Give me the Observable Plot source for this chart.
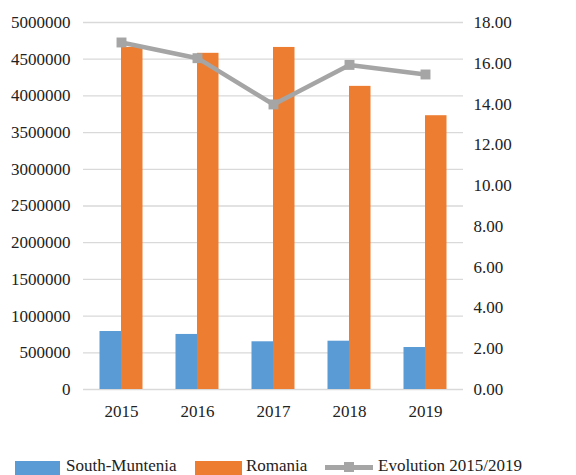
<!DOCTYPE html>
<html>
<head>
<meta charset="utf-8">
<script src="https://cdn.jsdelivr.net/npm/d3@7"></script>
<script src="https://cdn.jsdelivr.net/npm/@observablehq/plot@0.6"></script>
<style>
  html, body { margin: 0; padding: 0; background: #fff; }
  #wrap { position: relative; width: 576px; height: 475px; overflow: hidden; font-family: "Liberation Serif", serif; }
  #wrap svg, #wrap svg text { font-family: "Liberation Serif", serif !important; }
  .lg { position: absolute; font-size: 17px; color: #222; white-space: nowrap; line-height: 1; font-family: "Liberation Serif", serif; }
  .sw { position: absolute; }
</style>
</head>
<body>
<div id="wrap"></div>
<script>
const years = ["2015", "2016", "2017", "2018", "2019"];
const southMuntenia = [790000, 750000, 650000, 658000, 572000];
const romania = [4660000, 4580000, 4660000, 4130000, 3730000];
const evolution = [17.02, 16.25, 13.98, 15.92, 15.45];
const leftTicks = [0, 500000, 1000000, 1500000, 2000000, 2500000, 3000000, 3500000, 4000000, 4500000, 5000000];
const rightTicks = [0, 2, 4, 6, 8, 10, 12, 14, 16, 18];
const seriesNames = ["South-Muntenia", "Romania", "Evolution 2015/2019"];
const colors = ["#5b9bd5", "#ed7d31", "#a5a5a5"];

const k = 5000000 / 18;
const smData = years.map((y, i) => ({year: y, value: southMuntenia[i]}));
const roData = years.map((y, i) => ({year: y, value: romania[i]}));
const evData = years.map((y, i) => ({year: y, value: evolution[i] * k}));

const chart = Plot.plot({
  width: 576,
  height: 440,
  marginLeft: 83,
  marginRight: 113,
  marginTop: 22,
  marginBottom: 51,
  style: {fontFamily: "'Liberation Serif', serif", fontSize: "17px", color: "#222", background: "#fff"},
  x: {type: "band", domain: years, padding: 0},
  y: {domain: [0, 5000000]},
  marks: [
    Plot.gridY(leftTicks, {stroke: "#d9d9d9", strokeOpacity: 1, strokeWidth: 1.3}),
    Plot.barY(smData, {x: "year", y: "value", fill: colors[0], insetLeft: 16.5, insetRight: 38}),
    Plot.barY(roData, {x: "year", y: "value", fill: colors[1], insetLeft: 38, insetRight: 16.5}),
    Plot.line(evData, {x: "year", y: "value", stroke: colors[2], strokeWidth: 4.5}),
    Plot.dot(evData, {x: "year", y: "value", symbol: "square", r: 5.6, fill: colors[2], stroke: "none"}),
    Plot.axisY(leftTicks, {anchor: "left", tickSize: 0, tickPadding: 13, tickFormat: d => String(d), label: null}),
    Plot.axisY(rightTicks.map(t => t * k), {anchor: "right", tickSize: 0, tickPadding: 10, tickFormat: d => (d / k).toFixed(2), label: null}),
    Plot.axisX({tickSize: 0, tickPadding: 15, label: null})
  ]
});

const wrap = document.getElementById("wrap");
wrap.appendChild(chart);

function addSwatch(left, w, h, top, color) {
  const d = document.createElement("div");
  d.className = "sw";
  Object.assign(d.style, {left: left + "px", top: top + "px", width: w + "px", height: h + "px", background: color});
  wrap.appendChild(d);
}
function addLabel(left, top, text) {
  const d = document.createElement("div");
  d.className = "lg";
  d.textContent = text;
  Object.assign(d.style, {left: left + "px", top: top + "px"});
  wrap.appendChild(d);
}
addSwatch(15, 45, 16, 461, colors[0]);
addLabel(66, 457, seriesNames[0]);
addSwatch(195, 47, 16, 461, colors[1]);
addLabel(246, 457, seriesNames[1]);
addSwatch(325, 48, 4.5, 465, colors[2]);
addSwatch(344, 10, 10, 462, colors[2]);
addLabel(378, 457, seriesNames[2]);
</script>
</body>
</html>
